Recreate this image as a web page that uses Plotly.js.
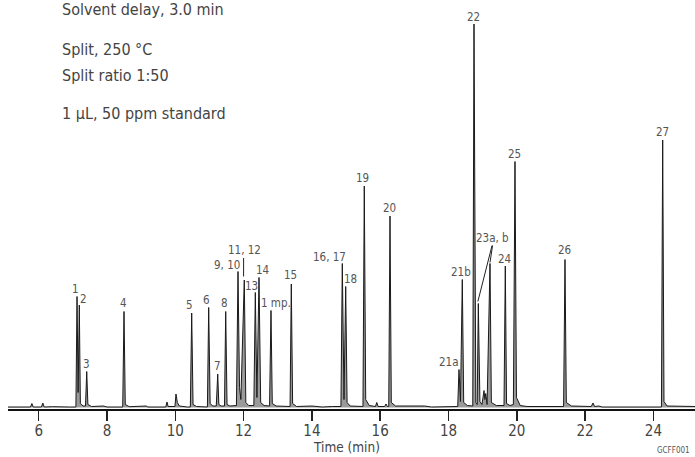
<!DOCTYPE html>
<html>
<head>
<meta charset="utf-8">
<script src="https://cdn.plot.ly/plotly-3.0.1.min.js"></script>
<style>html,body{margin:0;padding:0;background:#fff;}#chart{width:695px;height:457px;}</style>
</head>
<body>
<div id="chart"></div>
<script>
// Chromatogram trace: retention time (min) and detector signal (arbitrary units)
var timeMin = [
  5.10,
  5.76, 5.80, 5.84,
  6.08, 6.12, 6.16,
  6.40, 6.90,
  7.09, 7.122, 7.155, 7.189, 7.22, 7.30,
  7.37, 7.406, 7.44, 7.55,
  7.90, 8.00,
  8.46, 8.498, 8.535, 8.65,
  9.15, 9.20,
  9.72, 9.757, 9.79,
  9.99, 10.02, 10.06, 10.12, 10.35,
  10.44, 10.48, 10.52, 10.62,
  10.94, 10.978, 11.02, 11.10,
  11.20, 11.242, 11.275, 11.34,
  11.44, 11.476, 11.515, 11.60,
  11.79, 11.836, 11.88, 11.92, 12.020, 12.065, 12.15,
  12.30, 12.343, 12.39, 12.451, 12.50, 12.60,
  12.76, 12.802, 12.84, 12.95,
  13.36, 13.397, 13.435, 13.55,
  14.00, 14.30, 14.60,
  14.85, 14.890, 14.94, 14.990, 15.03, 15.12,
  15.495, 15.534, 15.575, 15.68,
  15.86, 15.90, 15.94,
  16.13, 16.17, 16.21,
  16.25, 16.287, 16.325, 16.45,
  17.30, 17.50,
  18.27, 18.307, 18.35, 18.404, 18.445, 18.55,
  18.71, 18.747, 18.80, 18.84,
  18.873, 18.92, 18.98,
  19.04, 19.065, 19.09, 19.13,
  19.215, 19.255, 19.40,
  19.625, 19.663, 19.70, 19.80,
  19.90, 19.947, 19.99, 20.10, 20.30,
  21.37, 21.411, 21.45, 21.60,
  22.18, 22.23, 22.28, 22.40, 22.50,
  24.235, 24.272, 24.31, 24.40, 25.22
];
var signal = [
  0.5,
  0.5, 4, 0.5,
  0.5, 4.5, 0.5,
  0.8, 0.5,
  0.5, 111, 15, 102.5, 4, 1.5,
  1.5, 36, 3, 1,
  1.5, 0.5,
  0.5, 96, 3, 0.8,
  1.5, 0.5,
  0.5, 5.5, 1,
  1, 13.5, 5, 1.5, 0.5,
  0.5, 94.5, 3, 1,
  0.5, 100, 4, 1.5,
  1.5, 33.5, 3, 1.5,
  1.5, 96, 3, 1.5,
  2, 136, 20, 8, 127.5, 5, 2,
  2, 115, 10, 130, 5, 2,
  1.5, 97, 4, 1.5,
  1, 123.5, 4, 1,
  1.5, 0.5, 1,
  1, 144, 8, 121, 5, 1.5,
  1, 221.5, 8, 2,
  1, 5, 1,
  1, 3.5, 1,
  1, 191.5, 5, 1.5,
  1.5, 0.5,
  1, 38, 6, 128, 5, 2,
  1.5, 383.5, 5, 3,
  104, 6, 3,
  17, 8, 14, 3,
  144, 5, 2,
  2, 141.5, 4, 2,
  3, 246, 10, 2, 1,
  1, 148, 5, 1.5,
  1, 4.5, 1, 1.5, 0.5,
  0.5, 267.5, 6, 1.5, 1
];
var xTicks = [6, 8, 10, 12, 14, 16, 18, 20, 22, 24];
var peakLabels = ["1", "2", "3", "4", "5", "6", "7", "8", "9, 10", "11, 12", "13", "14", "1 mp.", "15",
  "16, 17", "18", "19", "20", "21a", "21b", "22", "23a, b", "24", "25", "26", "27"];
var notes = ["Solvent delay, 3.0 min", "Split, 250 °C", "Split ratio 1:50", "1 µL, 50 ppm standard"];

// label anchor positions (min, signal units)
var labelPos = [
  [7.063, 118.5], [7.318, 108.5], [7.414, 43.5], [8.469, 104.5], [10.430, 102.5], [10.928, 107.5],
  [11.236, 41.5], [11.455, 104.8], [11.523, 142.5], [12.012, 157.5], [12.226, 121.5], [12.559, 137.5],
  [12.949, 104.2], [13.359, 132.5], [14.521, 150.2], [15.124, 128.5], [15.488, 229.2], [16.267, 199.8],
  [18.015, 45.5], [18.366, 135.2], [18.726, 390.2], [19.294, 169.5], [19.654, 148.8], [19.927, 253.5],
  [21.391, 157.5], [24.272, 275.5]
];
var FONT = "'Liberation Sans Narrow', 'DejaVu Sans Condensed', 'Roboto', sans-serif";

var annotations = peakLabels.map(function (txt, i) {
  return {x: labelPos[i][0], y: labelPos[i][1], xref: 'x', yref: 'y', text: txt, showarrow: false,
    xanchor: 'center', yanchor: 'middle', font: {family: FONT, size: 11.5, color: '#555'}};
});
var noteY = [398.2, 358.2, 331.8, 294.2];
notes.forEach(function (txt, i) {
  annotations.push({x: 6.624, y: noteY[i], xref: 'x', yref: 'y', text: txt, showarrow: false,
    xanchor: 'left', yanchor: 'middle', font: {family: FONT, size: 16, color: '#444'}});
});
annotations.push({x: (346.5 - 8) / 687, y: (409 - 446.5) / 409, xref: 'paper', yref: 'paper',
  text: 'Time (min)', showarrow: false, xanchor: 'center', yanchor: 'middle',
  font: {family: FONT, size: 13.5, color: '#444'}});
annotations.push({x: (673 - 8) / 687, y: (409 - 451) / 409, xref: 'paper', yref: 'paper',
  text: 'GCFF001', showarrow: false, xanchor: 'center', yanchor: 'middle',
  font: {family: FONT, size: 8, color: '#555'}});

var shapes = [
  {type: 'line', xref: 'x', yref: 'y', x0: 12.0, y0: 149.5, x1: 12.0, y1: 131, line: {color: '#222', width: 1}},
  {type: 'line', xref: 'x', yref: 'y', x0: 19.275, y0: 162, x1: 18.86, y1: 106, line: {color: '#222', width: 1}},
  {type: 'line', xref: 'x', yref: 'y', x0: 19.29, y0: 162, x1: 19.215, y1: 145, line: {color: '#222', width: 1}}
];

var trace = {
  x: timeMin, y: signal, type: 'scatter', mode: 'lines',
  line: {color: '#1a1a1a', width: 1, shape: 'linear'},
  fill: 'tozeroy', fillcolor: '#9a9a9a',
  hoverinfo: 'skip'
};

var layout = {
  width: 695, height: 457,
  margin: {l: 8, r: 0, t: 0, b: 48, pad: 0},
  paper_bgcolor: '#fff', plot_bgcolor: '#fff',
  showlegend: false,
  xaxis: {
    range: [5.101, 25.218], tickvals: xTicks, ticktext: xTicks.map(String),
    showline: true, linecolor: '#111', linewidth: 1.5, zeroline: false, showgrid: false,
    ticks: 'outside', ticklen: 10, tickwidth: 1.5, tickcolor: '#222',
    ticklabelstandoff: -3,
    tickfont: {family: FONT, size: 15, color: '#444'}
  },
  yaxis: {range: [-1.5, 407.5], visible: false, fixedrange: true},
  annotations: annotations,
  shapes: shapes
};

Plotly.newPlot('chart', [trace], layout, {staticPlot: true, displayModeBar: false});
</script>
</body>
</html>
